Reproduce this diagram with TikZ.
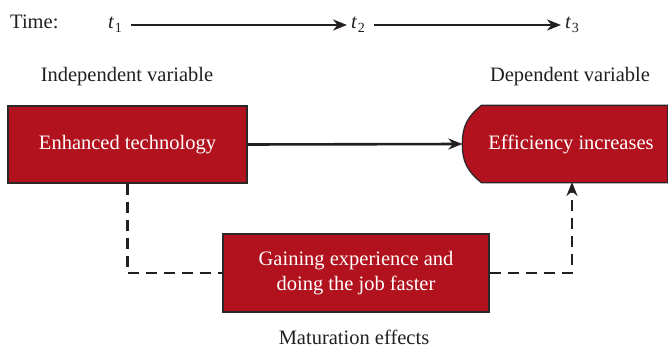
\documentclass[tikz,border=0pt]{standalone}
\usepackage{fontspec}
\setmainfont{Liberation Serif}
\usetikzlibrary{arrows.meta}
\definecolor{boxred}{RGB}{178,18,30}
\definecolor{edgecol}{RGB}{45,40,40}
\definecolor{inkcol}{RGB}{35,31,32}
\begin{document}
\begin{tikzpicture}[x=1pt,y=-1pt,
  box/.style={draw=edgecol, fill=boxred, line width=1.3pt, text=white,
    font=\fontsize{20.5}{25}\selectfont, inner sep=0pt, align=center},
  lbl/.style={font=\fontsize{20.5}{25}\selectfont, text=inkcol, inner sep=0pt},
  conn/.style={line width=2.6pt, draw=inkcol, -{Stealth[length=14pt,width=11pt]}},
  dconn/.style={conn, dash pattern=on 11pt off 7pt}]
\useasboundingbox (0,0) rectangle (668,350);

% time axis
\node[lbl, anchor=west] (time) at (10,22) {Time:};
\node[lbl] (t1) at (115,25) {\textit{t}\kern0.5pt\raisebox{-0.45ex}{\fontsize{14}{14}\selectfont 1}};
\node[lbl] (t2) at (358,25) {\textit{t}\kern0.5pt\raisebox{-0.45ex}{\fontsize{14}{14}\selectfont 2}};
\node[lbl] (t3) at (572,25) {\textit{t}\kern0.5pt\raisebox{-0.45ex}{\fontsize{14}{14}\selectfont 3}};
\draw[conn, shorten <=9pt, shorten >=4pt] (t1.east) -- (t2.west);
\draw[conn, shorten <=9pt, shorten >=4pt] (t2.east) -- (t3.west);

% labels
\node[lbl] (indep) at (127,77) {Independent variable};
\node[lbl] (dep) at (570,77) {Dependent variable};
\node[lbl] (mat) at (354,337) {Maturation effects};

% boxes
\node[box, minimum width=239pt, minimum height=77pt] (enh) at (127.5,144.5) {Enhanced technology};
\node[box, minimum width=266pt, minimum height=78pt] (mid) at (356,273) {Gaining experience and\\doing the job faster};
\node[box, draw=none, fill=none, minimum width=204pt, minimum height=76pt] (eff) at (565,144) {};
\filldraw[draw=edgecol, fill=boxred, line width=1.3pt]
  ([xshift=19pt]eff.north west) -- (eff.north east) -- (eff.south east)
  -- ([xshift=19pt]eff.south west)
  .. controls ([xshift=7pt,yshift=10pt]eff.south west) and ([yshift=-20pt]eff.west) .. (eff.west)
  .. controls ([yshift=20pt]eff.west) and ([xshift=7pt,yshift=-10pt]eff.north west) .. cycle;
\node[lbl, text=white] (efft) at (571,144) {Efficiency increases};

% connectors
\coordinate (effin) at (572,182);
\draw[conn] (enh.east) -- (eff.west);
\draw[dconn, -] (enh.south) |- (mid.west);
\draw[dconn] (mid.east) -| (effin);
\end{tikzpicture}
\end{document}
